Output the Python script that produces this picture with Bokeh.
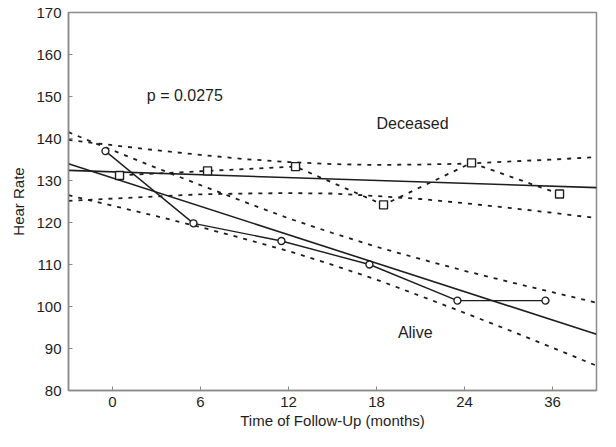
from bokeh.plotting import figure
from bokeh.models import Range1d, FixedTicker, ColumnDataSource, Label
from bokeh.transform import dodge
from bokeh.embed import file_html
from bokeh.resources import INLINE

# ---- data ----
month_labels = ["0", "6", "12", "18", "24", "36"]
visit_index = [0, 1, 2, 3, 4, 5]
alive_mean = [137.0, 119.8, 115.6, 110.0, 101.4, 101.4]
deceased_mean = [131.2, 132.3, 133.3, 124.2, 134.2, 126.8]

fit_x = [-0.5, 5.5]
alive_fit = [134.0, 93.4]
deceased_fit = [132.4, 128.3]

band_x = [-0.5, 0.0, 0.5, 1.0, 1.5, 2.0, 2.5, 3.0, 3.5, 4.0, 4.5, 5.0, 5.5]
alive_upper = [141.5, 137.2, 133.0, 128.9, 124.9, 121.0, 117.5, 114.2, 111.3, 108.5, 105.9, 103.4, 100.9]
alive_lower = [126.5, 124.0, 121.5, 118.9, 116.1, 113.2, 109.9, 106.4, 102.5, 98.5, 94.4, 90.2, 85.9]
deceased_upper = [139.65, 138.4, 137.2, 136.1, 135.1, 134.4, 133.9, 133.7, 133.8, 134.0, 134.5, 135.0, 135.55]
deceased_lower = [125.15, 125.7, 126.2, 126.7, 126.9, 127.0, 126.9, 126.3, 125.6, 124.6, 123.5, 122.3, 121.05]

y_ticks = [80, 90, 100, 110, 120, 130, 140, 150, 160, 170]
p_value_text = "p = 0.0275"
group_names = ["Deceased", "Alive"]

FONT = "Liberation Sans"
INK = "#1e1e1e"
AXIS = "#8a8a8a"

means = ColumnDataSource(dict(x=visit_index, alive=alive_mean, deceased=deceased_mean))
fits = ColumnDataSource(dict(x=fit_x, alive=alive_fit, deceased=deceased_fit))
bands = ColumnDataSource(dict(x=band_x, au=alive_upper, al=alive_lower,
                              du=deceased_upper, dl=deceased_lower))

p = figure(width=600, height=431, output_backend="svg", toolbar_location=None,
           x_range=Range1d(-0.5, 5.5), y_range=Range1d(80, 170),
           min_border_left=68, min_border_right=4, min_border_top=12, min_border_bottom=38)
p.grid.visible = False
p.outline_line_color = AXIS
p.outline_line_width = 1.5
p.background_fill_color = "white"
p.border_fill_color = "white"

# axes
xa = p.xaxis[0]
xa.ticker = FixedTicker(ticks=visit_index)
xa.major_label_overrides = {i: lab for i, lab in zip(visit_index, month_labels)}
xa.axis_label = "Time of Follow-Up (months)"
ya = p.yaxis[0]
ya.ticker = FixedTicker(ticks=y_ticks)
ya.axis_label = "Hear Rate"
for ax in (xa, ya):
    ax.axis_line_color = AXIS
    ax.axis_line_width = 1.5
    ax.major_tick_in = 4
    ax.major_tick_out = 0
    ax.major_tick_line_color = AXIS
    ax.minor_tick_line_color = None
    ax.major_label_text_font = FONT
    ax.major_label_text_font_size = "15px"
    ax.major_label_text_color = INK
    ax.axis_label_text_font = FONT
    ax.axis_label_text_font_size = "15px"
    ax.axis_label_text_font_style = "normal"
    ax.axis_label_text_color = INK
xa.major_label_standoff = 6
xa.axis_label_standoff = 2
ya.major_label_standoff = 7
ya.axis_label_standoff = 6

# confidence bands (dashed)
dash = dict(line_color=INK, line_width=1.8, line_dash="4 6")
p.line("x", "au", source=bands, **dash)
p.line("x", "al", source=bands, **dash)
p.line("x", "du", source=bands, **dash)
p.line("x", "dl", source=bands, **dash)

# regression lines
p.line("x", "alive", source=fits, line_color=INK, line_width=1.6)
p.line("x", "deceased", source=fits, line_color=INK, line_width=1.6)

# observed means
p.line(dodge("x", -0.08), "alive", source=means, line_color=INK, line_width=1.4)
p.line(dodge("x", 0.08), "deceased", source=means, **dash)
p.scatter(dodge("x", -0.08), "alive", source=means, marker="circle", size=7,
          fill_color="white", line_color=INK, line_width=1.4)
p.scatter(dodge("x", 0.08), "deceased", source=means, marker="square", size=8,
          fill_color="white", line_color=INK, line_width=1.4)

# annotations
p.add_layout(Label(x=0.39, y=150.2, text=p_value_text, text_font=FONT, text_font_size="16px",
                   text_color=INK, text_baseline="middle", text_align="left"))
p.add_layout(Label(x=3.41, y=143.5, text=group_names[0], text_font=FONT, text_font_size="16px",
                   text_color=INK, text_baseline="middle", text_align="center"))
p.add_layout(Label(x=3.44, y=93.7, text=group_names[1], text_font=FONT, text_font_size="16px",
                   text_color=INK, text_baseline="middle", text_align="center"))

open("out.html", "w").write(file_html(p, INLINE))
